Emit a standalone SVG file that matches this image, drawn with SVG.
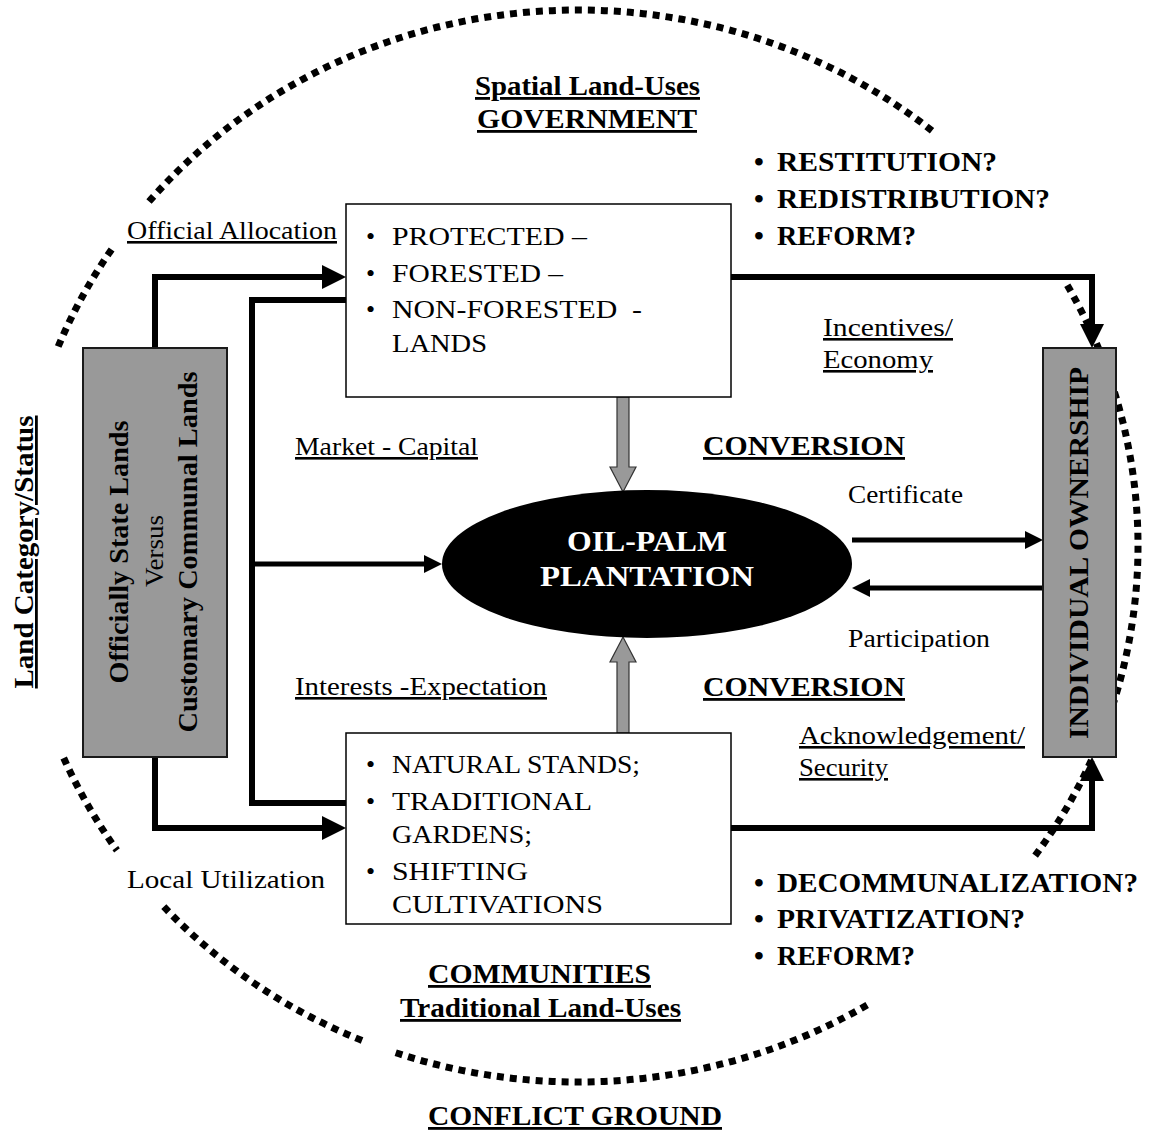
<svg xmlns="http://www.w3.org/2000/svg" width="1149" height="1131" viewBox="0 0 1149 1131">
<defs>
<style>
.dot{fill:none;stroke:#000;stroke-width:7;stroke-dasharray:7 6;}
.box{fill:#fff;stroke:#000;stroke-width:1.5;}
.grey{fill:#999;stroke:#1a1a1a;stroke-width:2;}
.thick{fill:none;stroke:#000;stroke-width:6;}
.thin{fill:none;stroke:#000;stroke-width:5;}
.blk{fill:#999;stroke:#333;stroke-width:1.2;}
text{font-family:"Liberation Serif","Times New Roman",serif;fill:#000;}
.r{font-size:26px;}
.b{font-size:28px;font-weight:bold;}
.u{text-decoration:underline;}
.w{fill:#fff;font-size:30px;font-weight:bold;}
</style>
<marker id="ah" markerUnits="userSpaceOnUse" markerWidth="26" markerHeight="26" refX="8" refY="12" orient="auto" overflow="visible"><path d="M0,0 L24,12 L0,24 z" fill="#000"/></marker>
<marker id="as" markerUnits="userSpaceOnUse" markerWidth="20" markerHeight="20" refX="6" refY="9" orient="auto" overflow="visible"><path d="M0,0 L18,9 L0,18 z" fill="#000"/></marker>
</defs>
<rect width="1149" height="1131" fill="#fff"/>

<g id="conflict-ground-boundary">
<path class="dot" d="M149,201.5 A560,536 0 0 1 934.2,132.4"/>
<path class="dot" d="M111.6,249.4 A560,536 0 0 0 57.3,348.7"/>
<path class="dot" d="M63.7,758 A560,536 0 0 0 117,850.4"/>
<path class="dot" d="M163.8,906.7 A560,536 0 0 0 367.3,1042.6"/>
<path class="dot" d="M395.7,1052.8 A560,536 0 0 0 868.9,1004"/>
<path class="dot" d="M1067.3,285.3 A560,536 0 0 1 1033.9,857.3"/>
</g>

<g id="connectors">
<path class="thick" d="M155,348 V277 H330" marker-end="url(#ah)"/>
<path class="thick" d="M731,277 H1092 V332" marker-end="url(#ah)"/>
<path class="thick" d="M155,757 V828 H330" marker-end="url(#ah)"/>
<path class="thick" d="M731,828 H1092 V773" marker-end="url(#ah)"/>
<path class="thick" d="M346,300 H252 V803 H346"/>
<path class="thin" d="M252,564 H430" marker-end="url(#as)"/>
<path class="thin" d="M852,540 H1031" marker-end="url(#as)"/>
<path class="thin" d="M1043,588 H864" marker-end="url(#as)"/>
<path class="blk" d="M617,397 H629 V467 H636 L623,492 L610,467 H617 Z"/>
<path class="blk" d="M617,733 V662 H610 L623,637 L636,662 H629 V733 Z"/>
</g>

<g id="land-status">
<rect class="grey" x="83" y="348" width="144" height="409"/>
<text class="b" transform="translate(128,552) rotate(-90)" text-anchor="middle" textLength="263" lengthAdjust="spacingAndGlyphs">Officially State Lands</text>
<text class="r" transform="translate(163,551) rotate(-90)" text-anchor="middle" textLength="72" lengthAdjust="spacingAndGlyphs" fill="#222">Versus</text>
<text class="b" transform="translate(197,552) rotate(-90)" text-anchor="middle" textLength="361" lengthAdjust="spacingAndGlyphs">Customary Communal Lands</text>
</g>

<g id="individual-ownership">
<rect class="grey" x="1043" y="348" width="73" height="409"/>
<text class="b" style="font-size:27px" transform="translate(1088,553) rotate(-90)" text-anchor="middle" textLength="372" lengthAdjust="spacingAndGlyphs">INDIVIDUAL OWNERSHIP</text>
</g>

<g id="government-lands">
<rect class="box" x="346" y="204" width="385" height="193"/>
<text class="r" x="366" y="245">•</text>
<text class="r" x="392" y="245" textLength="195" lengthAdjust="spacingAndGlyphs">PROTECTED –</text>
<text class="r" x="366" y="282">•</text>
<text class="r" x="392" y="282" textLength="171" lengthAdjust="spacingAndGlyphs">FORESTED –</text>
<text class="r" x="366" y="318">•</text>
<text class="r" x="392" y="318" textLength="250" lengthAdjust="spacingAndGlyphs" xml:space="preserve">NON-FORESTED  -</text>
<text class="r" x="392" y="352" textLength="95" lengthAdjust="spacingAndGlyphs">LANDS</text>
</g>

<g id="community-lands">
<rect class="box" x="346" y="733" width="385" height="191"/>
<text class="r" x="366" y="773">•</text>
<text class="r" x="392" y="773" textLength="248" lengthAdjust="spacingAndGlyphs">NATURAL STANDS;</text>
<text class="r" x="366" y="810">•</text>
<text class="r" x="392" y="810" textLength="200" lengthAdjust="spacingAndGlyphs">TRADITIONAL</text>
<text class="r" x="392" y="843" textLength="140" lengthAdjust="spacingAndGlyphs">GARDENS;</text>
<text class="r" x="366" y="880">•</text>
<text class="r" x="392" y="880" textLength="136" lengthAdjust="spacingAndGlyphs">SHIFTING</text>
<text class="r" x="392" y="913" textLength="211" lengthAdjust="spacingAndGlyphs">CULTIVATIONS</text>
</g>

<g id="oil-palm">
<ellipse cx="647" cy="564" rx="205" ry="74" fill="#000"/>
<text class="w" x="647" y="551" text-anchor="middle" textLength="160" lengthAdjust="spacingAndGlyphs">OIL-PALM</text>
<text class="w" x="647" y="586" text-anchor="middle" textLength="214" lengthAdjust="spacingAndGlyphs">PLANTATION</text>
</g>

<g id="labels">
<text class="b u" x="587.5" y="95" text-anchor="middle" textLength="225" lengthAdjust="spacingAndGlyphs">Spatial Land-Uses</text>
<text class="b u" x="587" y="128" text-anchor="middle" textLength="220" lengthAdjust="spacingAndGlyphs">GOVERNMENT</text>
<text class="b" x="754" y="171">•</text>
<text class="b" x="777" y="171" textLength="220" lengthAdjust="spacingAndGlyphs">RESTITUTION?</text>
<text class="b" x="754" y="208">•</text>
<text class="b" x="777" y="208" textLength="273" lengthAdjust="spacingAndGlyphs">REDISTRIBUTION?</text>
<text class="b" x="754" y="245">•</text>
<text class="b" x="777" y="245" textLength="139" lengthAdjust="spacingAndGlyphs">REFORM?</text>
<text class="r u" x="127" y="239" textLength="210" lengthAdjust="spacingAndGlyphs">Official Allocation</text>
<text class="r u" x="823" y="336" textLength="130" lengthAdjust="spacingAndGlyphs">Incentives/</text>
<text class="r u" x="823" y="368" textLength="110" lengthAdjust="spacingAndGlyphs">Economy</text>
<text class="r u" x="295" y="455" textLength="183" lengthAdjust="spacingAndGlyphs">Market - Capital</text>
<text class="b u" x="703" y="455" textLength="202" lengthAdjust="spacingAndGlyphs">CONVERSION</text>
<text class="r" x="848" y="503" textLength="115" lengthAdjust="spacingAndGlyphs">Certificate</text>
<text class="r" x="848" y="647" textLength="142" lengthAdjust="spacingAndGlyphs">Participation</text>
<text class="r u" x="295" y="695" textLength="252" lengthAdjust="spacingAndGlyphs">Interests -Expectation</text>
<text class="b u" x="703" y="696" textLength="202" lengthAdjust="spacingAndGlyphs">CONVERSION</text>
<text class="r u" x="799" y="744" textLength="226" lengthAdjust="spacingAndGlyphs">Acknowledgement/</text>
<text class="r u" x="799" y="776" textLength="89" lengthAdjust="spacingAndGlyphs">Security</text>
<text class="r" x="127" y="888" textLength="198" lengthAdjust="spacingAndGlyphs">Local Utilization</text>
<text class="b" x="754" y="892">•</text>
<text class="b" x="777" y="892" textLength="361" lengthAdjust="spacingAndGlyphs">DECOMMUNALIZATION?</text>
<text class="b" x="754" y="928">•</text>
<text class="b" x="777" y="928" textLength="248" lengthAdjust="spacingAndGlyphs">PRIVATIZATION?</text>
<text class="b" x="754" y="965">•</text>
<text class="b" x="777" y="965" textLength="138" lengthAdjust="spacingAndGlyphs">REFORM?</text>
<text class="b u" x="539.5" y="983" text-anchor="middle" textLength="223" lengthAdjust="spacingAndGlyphs">COMMUNITIES</text>
<text class="b u" x="540.5" y="1017" text-anchor="middle" textLength="281" lengthAdjust="spacingAndGlyphs">Traditional Land-Uses</text>
<text class="b u" x="575" y="1125" text-anchor="middle" textLength="294" lengthAdjust="spacingAndGlyphs">CONFLICT GROUND</text>
<text class="b u" transform="translate(33,552) rotate(-90)" text-anchor="middle" textLength="273" lengthAdjust="spacingAndGlyphs">Land Category/Status</text>
</g>
</svg>
